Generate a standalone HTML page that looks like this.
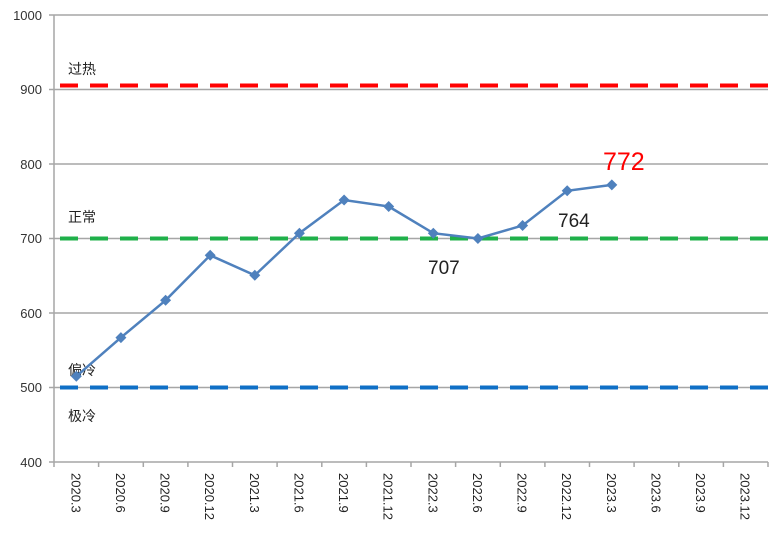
<!DOCTYPE html>
<html><head><meta charset="utf-8"><style>
html,body{margin:0;padding:0;background:#fff;}
svg{display:block;font-family:"Liberation Sans","Noto Sans CJK SC",sans-serif;}
</style></head><body>
<svg width="783" height="537" viewBox="0 0 783 537">
<g stroke="#a6a6a6" stroke-width="1.5">
<line x1="98.6" y1="462" x2="98.6" y2="467"/><line x1="143.3" y1="462" x2="143.3" y2="467"/>
<line x1="187.9" y1="462" x2="187.9" y2="467"/><line x1="232.5" y1="462" x2="232.5" y2="467"/>
<line x1="277.1" y1="462" x2="277.1" y2="467"/><line x1="321.8" y1="462" x2="321.8" y2="467"/>
<line x1="366.4" y1="462" x2="366.4" y2="467"/><line x1="411" y1="462" x2="411" y2="467"/>
<line x1="455.6" y1="462" x2="455.6" y2="467"/><line x1="500.3" y1="462" x2="500.3" y2="467"/>
<line x1="544.9" y1="462" x2="544.9" y2="467"/><line x1="589.5" y1="462" x2="589.5" y2="467"/>
<line x1="634.1" y1="462" x2="634.1" y2="467"/><line x1="678.8" y1="462" x2="678.8" y2="467"/>
<line x1="723.4" y1="462" x2="723.4" y2="467"/><line x1="768" y1="462" x2="768" y2="467"/>
<line x1="54" y1="15" x2="768" y2="15"/>
<line x1="54" y1="89.5" x2="768" y2="89.5"/>
<line x1="54" y1="164" x2="768" y2="164"/>
<line x1="54" y1="238.5" x2="768" y2="238.5"/>
<line x1="54" y1="313" x2="768" y2="313"/>
<line x1="54" y1="387.5" x2="768" y2="387.5"/>
<line x1="54" y1="462" x2="768" y2="462"/>
<line x1="54" y1="15" x2="54" y2="467"/>
<line x1="49" y1="15" x2="54" y2="15"/>
<line x1="49" y1="89.5" x2="54" y2="89.5"/>
<line x1="49" y1="164" x2="54" y2="164"/>
<line x1="49" y1="238.5" x2="54" y2="238.5"/>
<line x1="49" y1="313" x2="54" y2="313"/>
<line x1="49" y1="387.5" x2="54" y2="387.5"/>
<line x1="49" y1="462" x2="54" y2="462"/>
</g>
<g font-size="13" fill="#333" text-anchor="end">
<text x="42" y="20">1000</text><text x="42" y="94">900</text><text x="42" y="169">800</text>
<text x="42" y="243">700</text><text x="42" y="318">600</text><text x="42" y="392">500</text><text x="42" y="467">400</text>
</g>
<g stroke-width="4" stroke-dasharray="18,12" fill="none">
<line x1="60" y1="85.5" x2="768" y2="85.5" stroke="#ff0000"/>
<line x1="60" y1="238.5" x2="768" y2="238.5" stroke="#1fb04a"/>
<line x1="60" y1="387.5" x2="768" y2="387.5" stroke="#0f6fc6"/>
</g>
<g font-size="14" fill="#222">
<text x="68" y="74">过热</text><text x="68" y="222">正常</text>
<text x="68" y="375">偏冷</text><text x="68" y="421">极冷</text>
</g>
<polyline fill="none" stroke="#4f81bd" stroke-width="2.5" points="76.3,376.3 120.9,337.6 165.6,300.3 210.2,255.3 254.8,275.3 299.4,233.2 344.1,200 388.7,206.5 433.3,233.2 477.9,238.5 522.6,225.5 567.2,190.8 611.8,184.9"/>
<g fill="#4f81bd">
<polygon points="76.3,370.8 81.8,376.3 76.3,381.8 70.8,376.3"/>
<polygon points="120.9,332.1 126.4,337.6 120.9,343.1 115.4,337.6"/>
<polygon points="165.6,294.8 171.1,300.3 165.6,305.8 160.1,300.3"/>
<polygon points="210.2,249.8 215.7,255.3 210.2,260.8 204.7,255.3"/>
<polygon points="254.8,269.8 260.3,275.3 254.8,280.8 249.3,275.3"/>
<polygon points="299.4,227.7 304.9,233.2 299.4,238.7 293.9,233.2"/>
<polygon points="344.1,194.5 349.6,200 344.1,205.5 338.6,200"/>
<polygon points="388.7,201 394.2,206.5 388.7,212 383.2,206.5"/>
<polygon points="433.3,227.7 438.8,233.2 433.3,238.7 427.8,233.2"/>
<polygon points="477.9,233 483.4,238.5 477.9,244 472.4,238.5"/>
<polygon points="522.6,220 528.1,225.5 522.6,231 517.1,225.5"/>
<polygon points="567.2,185.3 572.7,190.8 567.2,196.3 561.7,190.8"/>
<polygon points="611.8,179.4 617.3,184.9 611.8,190.4 606.3,184.9"/>
</g>
<text x="603" y="170" font-size="25" fill="#ff0000">772</text>
<text x="558" y="227" font-size="19" fill="#222">764</text>
<text x="428" y="274" font-size="19" fill="#222">707</text>
<g font-size="13" fill="#222">
<text transform="translate(71.3,473) rotate(90)">2020.3</text>
<text transform="translate(115.9,473) rotate(90)">2020.6</text>
<text transform="translate(160.6,473) rotate(90)">2020.9</text>
<text transform="translate(205.2,473) rotate(90)">2020.12</text>
<text transform="translate(249.8,473) rotate(90)">2021.3</text>
<text transform="translate(294.4,473) rotate(90)">2021.6</text>
<text transform="translate(339.1,473) rotate(90)">2021.9</text>
<text transform="translate(383.7,473) rotate(90)">2021.12</text>
<text transform="translate(428.3,473) rotate(90)">2022.3</text>
<text transform="translate(472.9,473) rotate(90)">2022.6</text>
<text transform="translate(517.6,473) rotate(90)">2022.9</text>
<text transform="translate(562.2,473) rotate(90)">2022.12</text>
<text transform="translate(606.8,473) rotate(90)">2023.3</text>
<text transform="translate(651.4,473) rotate(90)">2023.6</text>
<text transform="translate(696.1,473) rotate(90)">2023.9</text>
<text transform="translate(740.7,473) rotate(90)">2023.12</text>
</g>
</svg>
</body></html>
